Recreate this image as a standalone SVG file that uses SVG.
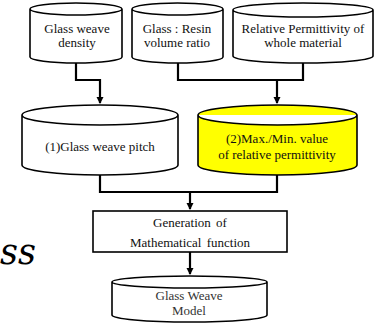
<svg xmlns="http://www.w3.org/2000/svg" width="376" height="325" viewBox="0 0 376 325">
<style>
.cyl{fill:#fff;stroke:#000;stroke-width:1.6}
.yel{fill:#ffff00}
.t{font-size:13px;fill:#111;text-anchor:middle}
.c{fill:none;stroke:#000;stroke-width:2.2}
</style>
<defs>
<marker id="ah" markerWidth="8" markerHeight="8" refX="6" refY="4" orient="auto" markerUnits="userSpaceOnUse">
<path d="M0,0.5 L7,4 L0,7.5 Z" fill="#000"/>
</marker>
</defs>
<rect width="376" height="325" fill="#fff"/>
<text x="0" y="264" font-family="'DejaVu Serif', serif" font-style="italic" font-size="35" fill="#000">ss</text>
<g id="connectors">
<polyline class="c" points="76,63 76,80 100,80 100,103" marker-end="url(#ah)"/>
<polyline class="c" points="178,63 178,80 303,80 303,63"/>
<line class="c" x1="277" y1="80" x2="277" y2="103" marker-end="url(#ah)"/>
<polyline class="c" points="100,175 100,192 277,192 277,175"/>
<line class="c" x1="190" y1="192" x2="190" y2="209" marker-end="url(#ah)"/>
<line class="c" x1="190" y1="252" x2="190" y2="274" marker-end="url(#ah)"/>
</g>
<g font-family="'Liberation Serif', 'Times New Roman', serif">
<g id="n1">
<path class="cyl" d="M30,9 A46,6 0 0 1 122,9 V57 A46,6 0 0 1 30,57 Z M30,9 A46,6 0 0 0 122,9"/>
<text class="t" x="77" y="33">Glass weave</text>
<text class="t" x="77" y="47">density</text>
</g>
<g id="n2">
<path class="cyl" d="M132,9 A45.5,6 0 0 1 223,9 V57 A45.5,6 0 0 1 132,57 Z M132,9 A45.5,6 0 0 0 223,9"/>
<text class="t" x="177" y="33">Glass : Resin</text>
<text class="t" x="177" y="47">volume ratio</text>
</g>
<g id="n3">
<path class="cyl" d="M233,10 A70,7 0 0 1 373,10 V56 A70,7 0 0 1 233,56 Z M233,10 A70,7 0 0 0 373,10"/>
<text class="t" x="303" y="33">Relative Permittivity of</text>
<text class="t" x="303" y="47">whole material</text>
</g>
<g id="n4">
<path class="cyl" d="M22,115 A78,10 0 0 1 178,115 V165 A78,10 0 0 1 22,165 Z M22,115 A78,10 0 0 0 178,115"/>
<text class="t" x="100" y="151">(1)Glass weave pitch</text>
</g>
<g id="n5">
<path class="cyl yel" d="M198,115 A79.5,10 0 0 1 357,115 V165 A79.5,10 0 0 1 198,165 Z M198,115 A79.5,10 0 0 0 357,115"/>
<text class="t" x="277" y="143">(2)Max./Min. value</text>
<text class="t" x="277" y="159">of relative permittivity</text>
</g>
<g id="n6">
<rect class="cyl" x="93" y="211" width="194" height="41"/>
<text class="t" x="190" y="227" word-spacing="2">Generation of</text>
<text class="t" x="190" y="247" word-spacing="2">Mathematical function</text>
</g>
<g id="n7">
<path class="cyl" d="M112,282 A77.5,6 0 0 1 267,282 V315 A77.5,7 0 0 1 112,315 Z M112,282 A77.5,6 0 0 0 267,282"/>
<text class="t" x="189" y="300" style="fill:#333">Glass Weave</text>
<text class="t" x="189" y="315" style="fill:#333">Model</text>
</g>
</g>
</svg>
